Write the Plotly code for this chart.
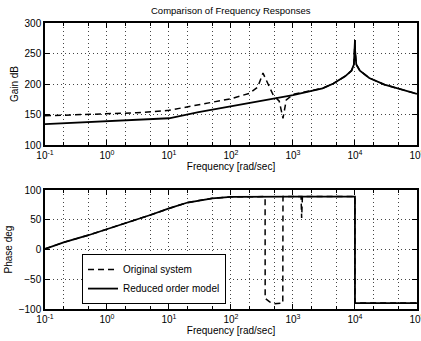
import plotly.graph_objects as go

# ---------------- data ----------------
# Gain (dB) – reduced order model
f_gain_red = [0.1, 0.3, 1, 3, 10, 30, 100, 300, 1000, 3000, 4500, 7000, 8800, 9600,
              9950, 10000, 10050, 10500, 12000, 17000, 30000, 60000, 100000]
gain_red = [134.5, 136.5, 139, 141, 144, 154, 164, 173, 182, 193, 201, 213, 222, 232,
            255, 272, 255, 232, 222, 210, 199, 190, 184]

# Gain (dB) – original system
f_gain_orig = [0.1, 0.3, 1, 3, 10, 30, 100, 200, 270, 328, 400, 480, 600, 690, 780,
               1000, 3000, 4500, 7000, 8800, 9600, 9950, 10000, 10050, 10500, 12000,
               17000, 30000, 60000, 100000]
gain_orig = [148, 149.5, 151, 153, 157, 166, 176, 185, 195, 218, 198, 182, 172, 144, 174,
             183, 193, 201, 213, 222, 232, 255, 272, 255, 232, 222, 210, 199, 190, 184]

# Phase (deg) – reduced order model
f_phase_red = [0.1, 0.2, 0.5, 1, 2, 5, 10, 20, 50, 100, 1000, 9990, 10000, 100000]
phase_red = [1, 12, 24, 34, 45, 58, 69, 79, 86, 88.5, 89, 89, -90, -90]

# Phase (deg) – original system
f_phase_orig = [0.1, 0.2, 0.5, 1, 2, 5, 10, 20, 50, 100, 340, 355, 356, 420, 500, 600,
                685, 690, 1350, 1380, 1420, 9990, 10000, 100000]
phase_orig = [1, 12, 24, 34, 45, 58, 69, 79, 86, 88.5, 89, 88, -82, -88, -91, -91,
              -90, 89, 89, 53, 89, 89, -90, -90]

x_tickvals = [0.1, 1, 10, 100, 1000, 10000, 100000]
x_ticktext = ["10<sup>-1</sup>", "10<sup>0</sup>", "10<sup>1</sup>", "10<sup>2</sup>",
              "10<sup>3</sup>", "10<sup>4</sup>", "10<sup>5</sup>"]
gain_ticks = [100, 150, 200, 250, 300]
phase_ticks = [-100, -50, 0, 50, 100]

# ---------------- figure ----------------
FONT = "Liberation Sans, Arial, sans-serif"
dash_style = "6px,4px"

fig = go.Figure()
fig.add_trace(go.Scatter(x=f_gain_orig, y=gain_orig, mode="lines", xaxis="x", yaxis="y",
                         line=dict(color="black", width=1.5, dash=dash_style),
                         showlegend=False))
fig.add_trace(go.Scatter(x=f_gain_red, y=gain_red, mode="lines", xaxis="x", yaxis="y",
                         line=dict(color="black", width=1.8), showlegend=False))
fig.add_trace(go.Scatter(x=f_phase_orig, y=phase_orig, mode="lines", xaxis="x2", yaxis="y2",
                         name="Original system",
                         line=dict(color="black", width=1.5, dash=dash_style)))
fig.add_trace(go.Scatter(x=f_phase_red, y=phase_red, mode="lines", xaxis="x2", yaxis="y2",
                         name="Reduced order model",
                         line=dict(color="black", width=1.8)))

grid_kw = dict(showgrid=True, gridcolor="#444", gridwidth=1, griddash="1px,3px")
common_x = dict(type="log", range=[-1, 5.0005], tickvals=x_tickvals, ticktext=x_ticktext,
                ticks="inside", ticklen=5, tickcolor="black", showline=True,
                linecolor="black", linewidth=1.5, mirror="ticks", zeroline=False,
                ticklabeloverflow="allow", automargin=False,
                tickfont=dict(size=10, color="black", family=FONT),
                minor=dict(ticks="inside", ticklen=3, tickcolor="black",
                           showgrid=True, gridcolor="#444", gridwidth=1,
                           griddash="1px,3px"),
                title=dict(text="Frequency [rad/sec]", standoff=2,
                           font=dict(size=10, color="black", family=FONT)),
                **grid_kw)
common_y = dict(ticks="inside", ticklen=5, tickcolor="black", showline=True,
                linecolor="black", linewidth=1.5, mirror="ticks", zeroline=False,
                automargin=False,
                tickfont=dict(size=10, color="black", family=FONT), **grid_kw)

fig.update_layout(
    width=421, height=341,
    margin=dict(l=45, r=4, t=23, b=32),
    paper_bgcolor="white", plot_bgcolor="white",
    font=dict(family=FONT, color="black", size=10),
    xaxis=dict(domain=[0, 1], anchor="y", **common_x),
    yaxis=dict(domain=[0.573, 1.0], anchor="x", range=[100, 300], tickvals=gain_ticks,
               title=dict(text="Gain dB", standoff=4,
                          font=dict(size=10, color="black", family=FONT)),
               **common_y),
    xaxis2=dict(domain=[0, 1], anchor="y2", **common_x),
    yaxis2=dict(domain=[0.0, 0.416], anchor="x2", range=[-100, 100], tickvals=phase_ticks,
                title=dict(text="Phase deg", standoff=4,
                           font=dict(size=10, color="black", family=FONT)),
                **common_y),
    legend=dict(x=0.0995, y=0.192, xanchor="left", yanchor="top",
                bgcolor="white", bordercolor="black", borderwidth=1,
                font=dict(size=10, color="black", family=FONT),
                tracegroupgap=0, itemwidth=30),
    annotations=[dict(text="Comparison of Frequency Responses", x=0.5, y=1.042,
                      xref="paper", yref="paper", xanchor="center", yanchor="middle",
                      showarrow=False, font=dict(size=9.5, color="black", family=FONT))],
)

fig.write_html("out.html")
